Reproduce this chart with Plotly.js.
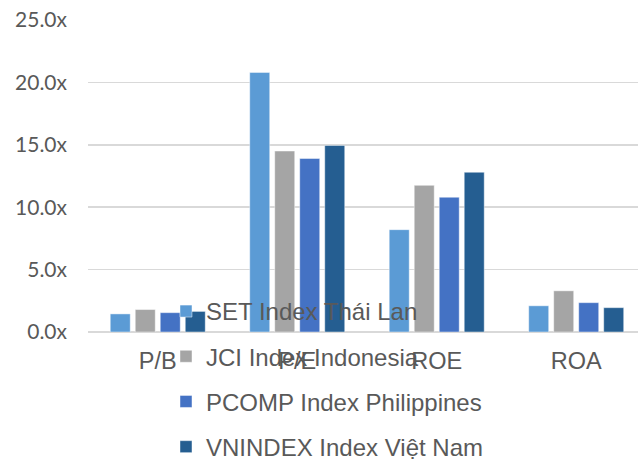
<!DOCTYPE html>
<html>
<head>
<meta charset="utf-8">
<script src="https://cdn.plot.ly/plotly-3.0.1.min.js"></script>
<style>html,body{margin:0;padding:0;background:#fff;}#chart{width:638px;height:461px;}</style>
</head>
<body>
<div id="chart"></div>
<script>
var categories = ["P/B", "P/E", "ROE", "ROA"];
var seriesNames = ["SET Index Thái Lan", "JCI Index Indonesia", "PCOMP Index Philippines", "VNINDEX Index Việt Nam"];
var setValues = [1.45, 20.8, 8.2, 2.1];
var jciValues = [1.8, 14.5, 11.75, 3.3];
var pcompValues = [1.55, 13.9, 10.8, 2.35];
var vnValues = [1.65, 14.95, 12.8, 1.95];
var yTickValues = [0, 5, 10, 15, 20, 25];
var yTickLabels = ["0.0x", "5.0x", "10.0x", "15.0x", "20.0x", "25.0x"];
var colors = ["#5B9BD5", "#A5A5A5", "#4472C4", "#255E91"];

var allValues = [setValues, jciValues, pcompValues, vnValues];
var traces = allValues.map(function (vals, i) {
  return {
    type: "bar",
    name: seriesNames[i],
    x: categories,
    y: vals,
    legendgroup: "g" + i,
    marker: {color: colors[i], line: {color: "rgba(255,255,255,0.45)", width: 1}},
    hoverinfo: "none"
  };
});

var layout = {
  width: 638,
  height: 461,
  margin: {l: 88, r: 0, t: 20, b: 129, autoexpand: false},
  paper_bgcolor: "#fff",
  plot_bgcolor: "#fff",
  barmode: "group",
  bargap: 0.283,
  bargroupgap: 0.2,
  font: {family: "Liberation Sans, Arial, sans-serif", color: "#595959"},
  xaxis: {
    type: "category",
    range: [-0.5, 3.443],
    showgrid: false,
    showline: false,
    zeroline: false,
    ticks: "",
    tickfont: {size: 23.5, color: "#595959"},
    ticklabelstandoff: 12
  },
  yaxis: {
    range: [0, 25],
    tickvals: yTickValues,
    ticktext: yTickLabels,
    showgrid: true,
    gridcolor: "#D9D9D9",
    gridwidth: 1.5,
    zeroline: true,
    zerolinecolor: "#D9D9D9",
    zerolinewidth: 2,
    showline: false,
    ticks: "",
    tickfont: {family: "Lato, Open Sans, sans-serif", size: 21, color: "#595959"},
    ticklabelstandoff: 20
  },
  showlegend: true,
  legend: {
    orientation: "v",
    x: 0.1418,
    xanchor: "left",
    y: -0.439,
    yanchor: "bottom",
    xref: "paper",
    yref: "paper",
    bgcolor: "rgba(0,0,0,0)",
    font: {size: 24, color: "#595959"},
    tracegroupgap: 11,
    traceorder: "grouped",
    itemclick: false,
    itemdoubleclick: false
  }
};

Plotly.newPlot("chart", traces, layout, {displayModeBar: false, staticPlot: true});
</script>
</body>
</html>
